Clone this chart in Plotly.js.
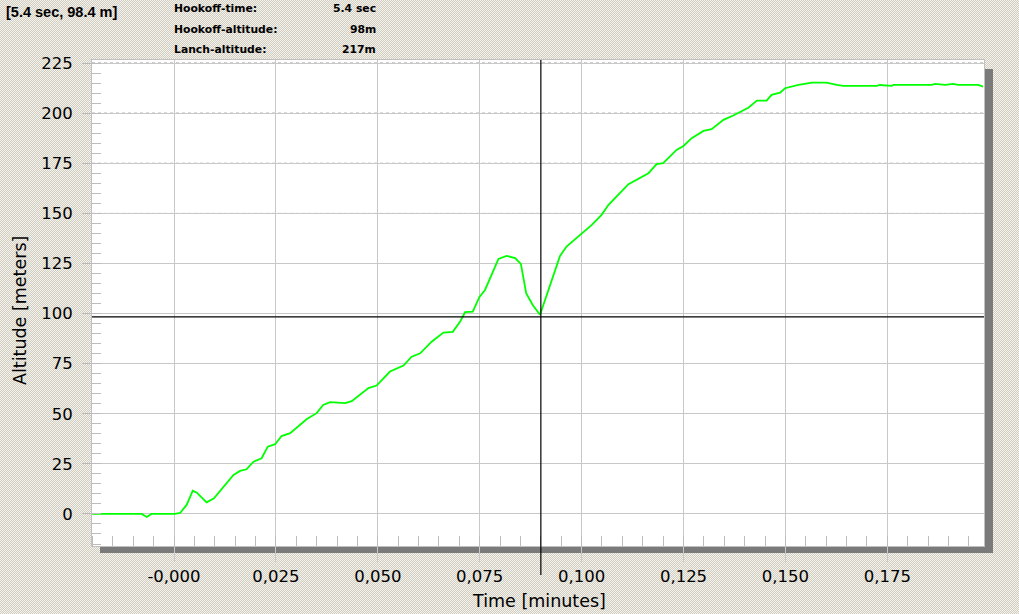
<!DOCTYPE html>
<html>
<head>
<meta charset="utf-8">
<script src="https://cdn.plot.ly/plotly-3.0.1.min.js"></script>
<style>
  html, body { margin: 0; padding: 0; }
  body {
    width: 1019px; height: 614px; overflow: hidden;
    background: repeating-conic-gradient(#cfcdc8 0 25%, #f7f2e6 0 50%) 0 0 / 2px 2px;
  }
  #chart { width: 1019px; height: 614px; }
</style>
</head>
<body>
<div id="chart"></div>
<script>
// ---- data (time in minutes, altitude in meters) ----
const timeMin = [
  -0.0201, -0.0079, -0.0067, -0.0055, 0.0002, 0.0015, 0.0031, 0.0046, 0.0056, 0.0080,
  0.0098, 0.0113, 0.0146, 0.0162, 0.0178, 0.0195, 0.0215, 0.0230, 0.0248, 0.0264,
  0.0285, 0.0326, 0.0350, 0.0366, 0.0383, 0.0420, 0.0436, 0.0477, 0.0497, 0.0530,
  0.0563, 0.0583, 0.0604, 0.0632, 0.0661, 0.0684, 0.0702, 0.0714, 0.0733, 0.0749,
  0.0763, 0.0796, 0.0816, 0.0837, 0.0851, 0.0864, 0.0880, 0.0898, 0.0947, 0.0963,
  0.0996, 0.1025, 0.1049, 0.1066, 0.1115, 0.1164, 0.1184, 0.1200, 0.1233, 0.1250,
  0.1270, 0.1299, 0.1319, 0.1348, 0.1372, 0.1390, 0.1409, 0.1430, 0.1454, 0.1466,
  0.1487, 0.1499, 0.1532, 0.1565, 0.1601, 0.1626, 0.1642, 0.1724, 0.1732, 0.1740,
  0.1761, 0.1765, 0.1859, 0.1867, 0.1892, 0.1912, 0.1924, 0.1973, 0.1985
];
const altitudeM = [
  0, 0, -1.5, 0, 0, 0.5, 4.5, 11.6, 10.6, 5.8,
  7.8, 11.6, 19.5, 21.5, 22.3, 26.1, 27.8, 33.6, 34.8, 38.9,
  40.3, 47.4, 50.3, 54.4, 55.8, 55.3, 56.3, 62.8, 64.1, 71.1,
  74.1, 78.5, 80.2, 86.0, 90.5, 90.9, 96.0, 100.7, 101.0, 108.2,
  111.8, 127.3, 128.8, 127.7, 124.8, 110.2, 104.3, 99.4, 128.8, 133.5,
  139.0, 144.3, 149.3, 154.3, 164.6, 170.1, 174.6, 175.1, 181.7, 183.7,
  187.6, 191.2, 192.1, 196.7, 198.9, 200.9, 202.8, 206.3, 206.3, 209.2,
  210.3, 212.5, 214.2, 215.3, 215.3, 214.2, 213.7, 213.7, 214.2, 214.0,
  213.7, 214.2, 214.2, 214.7, 214.2, 214.7, 214.2, 214.2, 213.3
];
const xTickVals = [0, 0.025, 0.05, 0.075, 0.1, 0.125, 0.15, 0.175];
const xTickText = ['-0,000', '0,025', '0,050', '0,075', '0,100', '0,125', '0,150', '0,175'];
const yTickVals = [0, 25, 50, 75, 100, 125, 150, 175, 200, 225];
const yDottedGrid = [150, 175, 200, 225];
const hookoffTimeSec = 5.4;
const hookoffAltCursor = 98.4;
const infoLabels = ['Hookoff-time:', 'Hookoff-altitude:', 'Lanch-altitude:'];
const infoValues = ['5.4 sec', '98m', '217m'];
const cursorText = '[5.4 sec, 98.4 m]';

// ---- layout helpers (pixel -> paper) ----
const W = 1019, H = 614;
const M = {l: 92, r: 35, t: 60, b: 68};
const PW = W - M.l - M.r, PH = H - M.t - M.b;
const px = x => (x - M.l) / PW;
const py = y => (H - M.b - y) / PH;

const TFONT = 'DejaVu Sans, Verdana, sans-serif';
const FONT = 'Liberation Sans, Arial, sans-serif';
const HFONT = 'DejaVu Sans, Verdana, sans-serif';

const shapes = [
  // drop shadow of plot panel
  {type: 'rect', xref: 'paper', yref: 'paper', x0: px(984), x1: px(993), y0: py(553), y1: py(69),
   fillcolor: '#7a7a7a', line: {width: 0}, layer: 'below'},
  {type: 'rect', xref: 'paper', yref: 'paper', x0: px(100), x1: px(993), y0: py(553), y1: py(546),
   fillcolor: '#7a7a7a', line: {width: 0}, layer: 'below'}
];
yDottedGrid.forEach(v => shapes.push({
  type: 'line', xref: 'paper', yref: 'y', x0: 0, x1: 1, y0: v, y1: v,
  line: {color: '#5a5a5a', width: 1, dash: 'dot'}, layer: 'between'
}));
// cursor cross-hair
shapes.push({type: 'line', xref: 'x', yref: 'paper', x0: hookoffTimeSec / 60, x1: hookoffTimeSec / 60,
  y0: py(575), y1: 1, line: {color: '#000', width: 1.2}, layer: 'above'});
shapes.push({type: 'line', xref: 'paper', yref: 'y', x0: 0, x1: 1, y0: hookoffAltCursor, y1: hookoffAltCursor,
  line: {color: '#000', width: 1.2}, layer: 'above'});

const annotations = [
  {text: cursorText, xref: 'paper', yref: 'paper', x: px(4), y: py(12), xanchor: 'left', yanchor: 'middle',
   showarrow: false, font: {family: FONT, size: 14.5, color: '#000', weight: 600}}
];
const rowY = [9, 30, 50];
infoLabels.forEach((t, i) => {
  annotations.push({text: '<b>' + t + '</b>', xref: 'paper', yref: 'paper', x: px(172), y: py(rowY[i]),
    xanchor: 'left', yanchor: 'middle', showarrow: false, font: {family: HFONT, size: 10.8, color: '#000'}});
  annotations.push({text: '<b>' + infoValues[i] + '</b>', xref: 'paper', yref: 'paper', x: px(378), y: py(rowY[i]),
    xanchor: 'right', yanchor: 'middle', showarrow: false, font: {family: HFONT, size: 10.8, color: '#000'}});
});
// axis titles placed at the reference pixel positions
annotations.push({text: 'Time [minutes]', xref: 'paper', yref: 'paper', x: px(539), y: py(601),
  xanchor: 'center', yanchor: 'middle', showarrow: false, font: {family: TFONT, size: 17.5, color: '#000'}});
annotations.push({text: 'Altitude [meters]', xref: 'paper', yref: 'paper', x: px(20), y: py(311),
  xanchor: 'center', yanchor: 'middle', textangle: -90, showarrow: false,
  font: {family: TFONT, size: 17.5, color: '#000'}});

const trace = {
  x: timeMin, y: altitudeM, type: 'scatter', mode: 'lines',
  line: {color: '#00ff00', width: 1.8}, hoverinfo: 'skip'
};

const layout = {
  width: W, height: H,
  margin: M,
  paper_bgcolor: 'rgba(0,0,0,0)',
  plot_bgcolor: '#ffffff',
  showlegend: false,
  separators: ', ',
  xaxis: {
    range: [-0.02012, 0.19872],
    tickvals: xTickVals, ticktext: xTickText,
    showgrid: true, gridcolor: '#c8c8c8', gridwidth: 1,
    zeroline: false,
    ticks: 'outside', ticklen: 15, tickcolor: '#c8c8c8', tickwidth: 1,
    minor: {dtick: 0.005, tick0: 0, ticks: 'inside', ticklen: 10, tickcolor: '#bcbcbc', showgrid: false},
    showline: true, linecolor: '#c0c0c0', mirror: true,
    tickfont: {family: TFONT, size: 16.5, color: '#000'},
    title: {text: ''}
  },
  yaxis: {
    range: [-16.0, 226.6],
    tickvals: yTickVals,
    showgrid: true, gridcolor: '#c8c8c8', gridwidth: 1,
    zeroline: false,
    ticks: 'outside', ticklen: 9, tickcolor: '#b8b8b8', tickwidth: 1,
    ticklabelstandoff: 6,
    minor: {dtick: 5, tick0: 0, ticks: 'inside', ticklen: 9, tickcolor: '#bcbcbc', showgrid: false},
    showline: true, linecolor: '#c0c0c0', mirror: true,
    tickfont: {family: TFONT, size: 16.5, color: '#000'},
    title: {text: ''}
  },
  shapes: shapes,
  annotations: annotations
};

Plotly.newPlot('chart', [trace], layout, {staticPlot: true, displayModeBar: false});
</script>
</body>
</html>
